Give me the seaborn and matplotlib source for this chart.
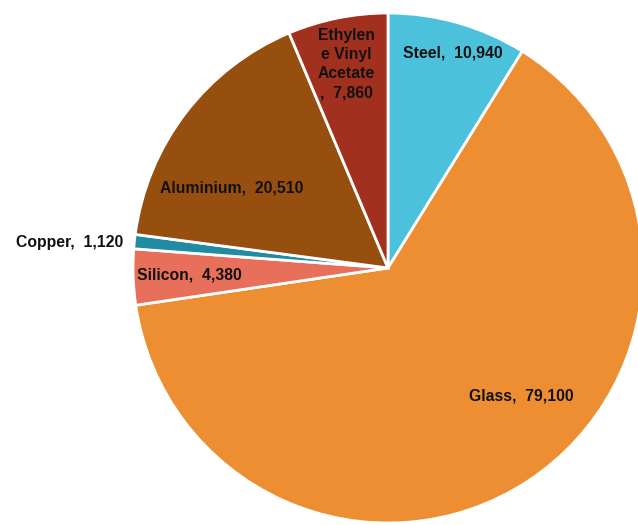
import seaborn as sns
import matplotlib.pyplot as plt

# material mass per category
materials = ['Steel', 'Glass', 'Silicon', 'Copper', 'Aluminium', 'Ethylene Vinyl Acetate']
tonnes = [10940, 79100, 4380, 1120, 20510, 7860]
label_text = ['Steel,  10,940', 'Glass,  79,100', 'Silicon,  4,380', 'Copper,  1,120',
              'Aluminium,  20,510', 'Ethylen\ne Vinyl\nAcetate\n,  7,860']
colors = ['#4bc1dc', '#ee8e32', '#e8705a', '#1f8ca3', '#964f0e', '#a2301e']

# label anchor points in pixel space (x, y from top)
label_pos = [(453, 53), (521, 396), (189, 275), (70, 242), (232, 188), (346, 64)]

sns.set_theme(style='white')
plt.rcParams['font.family'] = ['Liberation Sans', 'DejaVu Sans']

W, H = 638, 525
fig = plt.figure(figsize=(W / 100, H / 100), dpi=100)
ax = fig.add_axes([0, 0, 1, 1])

ax.pie(tonnes, colors=colors, startangle=90, counterclock=False,
       center=(388, H - 268), radius=255,
       wedgeprops={'edgecolor': 'white', 'linewidth': 2})
ax.set_xlim(0, W)
ax.set_ylim(0, H)
ax.set_aspect('equal')
ax.axis('off')

for txt, (x, y) in zip(label_text, label_pos):
    ax.text(x, H - y, txt, ha='center', va='center', fontsize=11.3,
            fontweight='bold', color='#111111', linespacing=1.35)

fig.savefig('out.png', dpi=100)
